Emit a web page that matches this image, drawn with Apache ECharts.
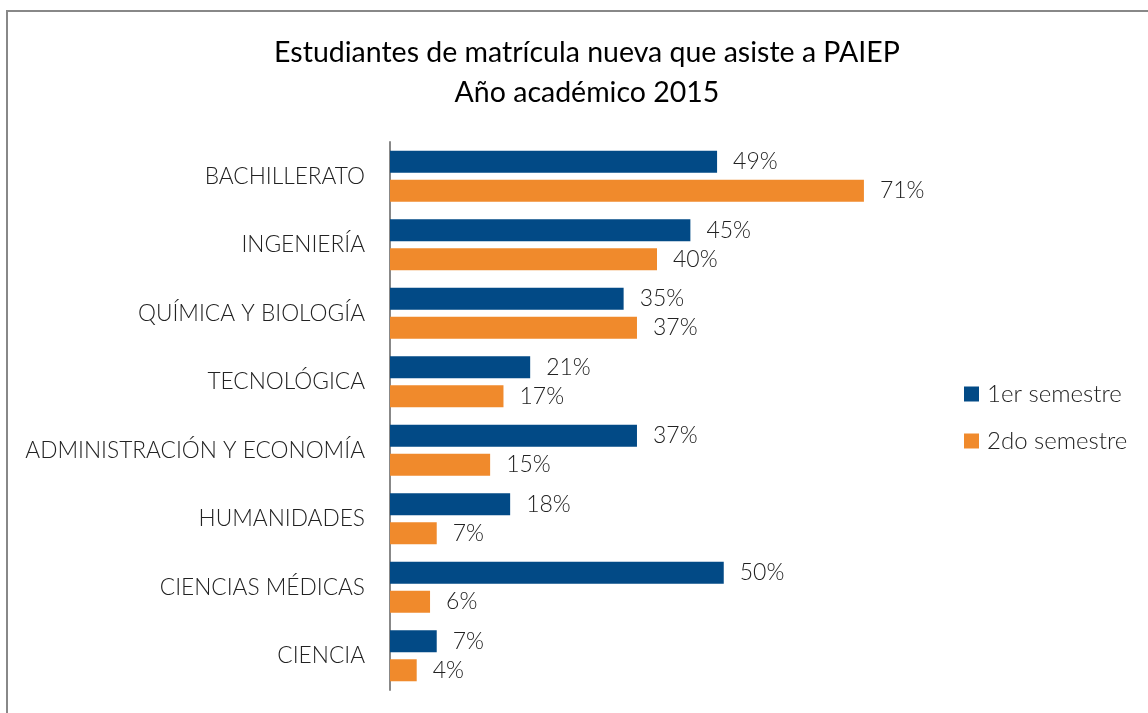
<!DOCTYPE html>
<html>
<head>
<meta charset="utf-8">
<script src="https://cdn.jsdelivr.net/npm/echarts@6/dist/echarts.min.js"></script>
<style>
  html, body { margin: 0; padding: 0; background: #fff; }
  #chart { width: 1148px; height: 713px; }
</style>
</head>
<body>
<div id="chart"></div>
<script>
// categories, top to bottom
const categories = [
  "BACHILLERATO",
  "INGENIERÍA",
  "QUÍMICA Y BIOLOGÍA",
  "TECNOLÓGICA",
  "ADMINISTRACIÓN Y ECONOMÍA",
  "HUMANIDADES",
  "CIENCIAS MÉDICAS",
  "CIENCIA"
];
const seriesNames = ["1er semestre", "2do semestre"];
const primerSemestre = [49, 45, 35, 21, 37, 18, 50, 7];
const segundoSemestre = [71, 40, 37, 17, 15, 7, 6, 4];

const font = "Lato, 'Open Sans', sans-serif";

let myChart = echarts.init(document.getElementById("chart"));
myChart.setOption({
  animation: false,
  color: ["#024a86", "#f08a2c"],
  title: {
    text: "Estudiantes de matrícula nueva que asiste a PAIEP\nAño académico 2015",
    left: 582,
    top: 28,
    textAlign: "center",
    textStyle: {
      fontFamily: font,
      fontWeight: "normal",
      fontSize: 28.5,
      lineHeight: 40,
      color: "#000"
    }
  },
  graphic: [
    {
      type: "rect",
      shape: { x: 7, y: 11, width: 1300, height: 900 },
      style: { fill: "none", stroke: "#888", lineWidth: 2 },
      silent: true
    }
  ],
  legend: {
    data: seriesNames,
    orient: "vertical",
    left: 959,
    top: 377,
    itemWidth: 15,
    itemHeight: 15,
    itemGap: 23,
    icon: "rect",
    textStyle: {
      fontFamily: font,
      fontWeight: 300,
      fontSize: 24,
      padding: [0, 0, 0, 3],
      color: "#222"
    }
  },
  grid: {
    left: 390,
    top: 142,
    bottom: 23,
    right: 224
  },
  xAxis: {
    type: "value",
    min: 0,
    max: 80,
    show: false
  },
  yAxis: {
    type: "category",
    data: categories,
    inverse: true,
    axisLine: { lineStyle: { color: "#888", width: 2 } },
    axisTick: { show: false },
    axisLabel: {
      margin: 25,
      fontFamily: font,
      fontWeight: 300,
      fontSize: 22.7,
      color: "#222"
    }
  },
  series: [
    {
      name: seriesNames[0],
      type: "bar",
      data: primerSemestre,
      barWidth: 22,
      barGap: "32%",
      label: {
        show: true,
        position: "right",
        distance: 16,
        formatter: "{c}%",
        fontFamily: font,
        fontWeight: 300,
        fontSize: 23,
        color: "#222"
      }
    },
    {
      name: seriesNames[1],
      type: "bar",
      data: segundoSemestre,
      barWidth: 22,
      barGap: "32%",
      label: {
        show: true,
        position: "right",
        distance: 16,
        formatter: "{c}%",
        fontFamily: font,
        fontWeight: 300,
        fontSize: 23,
        color: "#222"
      }
    }
  ]
});
</script>
</body>
</html>
